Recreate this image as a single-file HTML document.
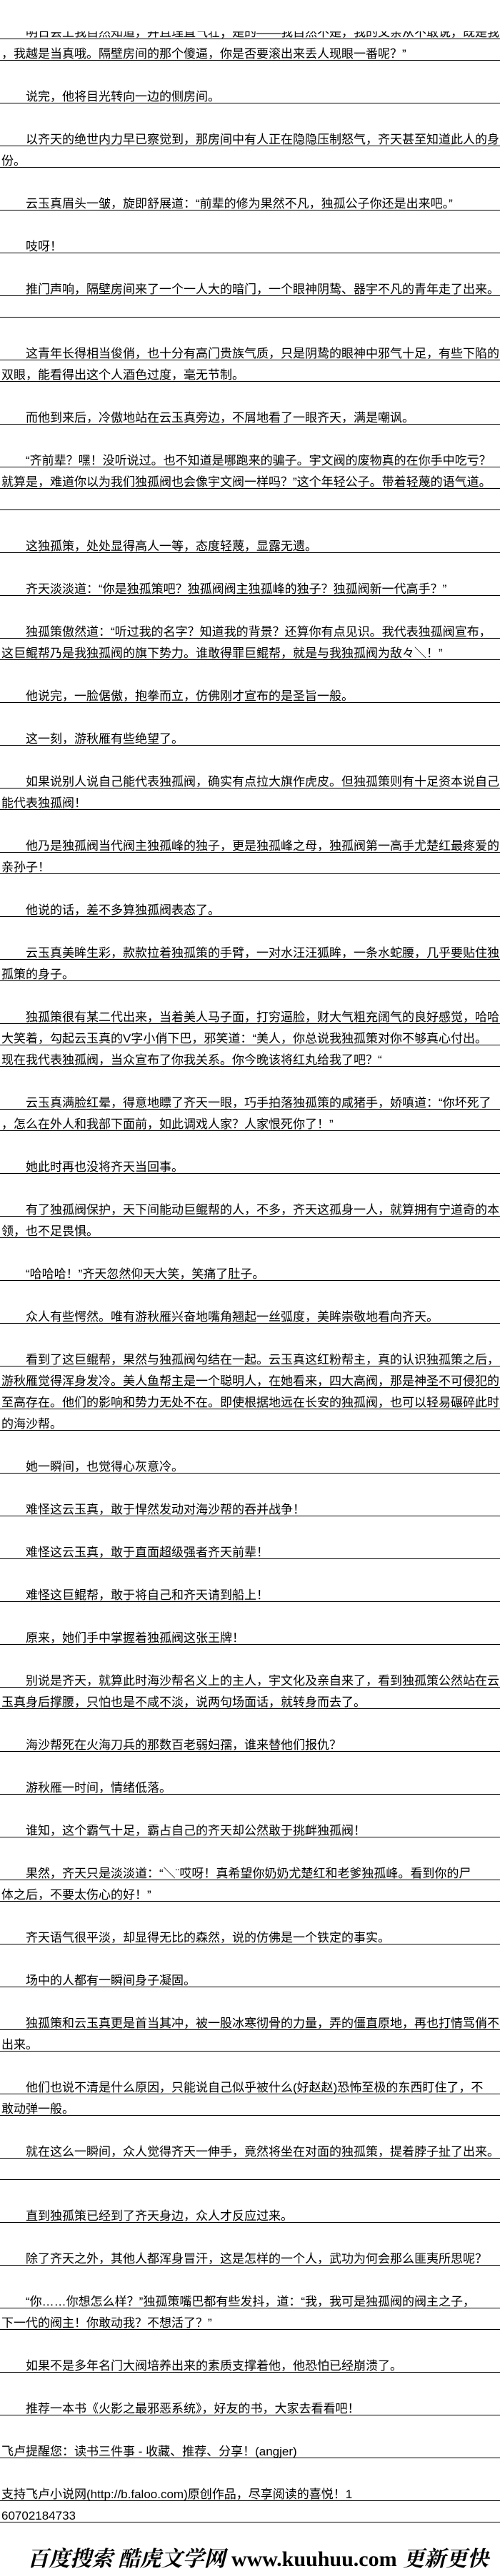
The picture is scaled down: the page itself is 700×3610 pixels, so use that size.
<!DOCTYPE html>
<html><head><meta charset="utf-8">
<style>
html,body{margin:0;padding:0;background:#fff;}
body{width:700px;height:3610px;position:relative;overflow:hidden;font-family:"Liberation Sans","Noto Sans CJK SC","WenQuanYi Zen Hei",sans-serif;color:#000;}
.r{position:absolute;left:0;width:700px;height:29px;border-bottom:1px solid #000;box-sizing:content-box;font-size:17px;line-height:17px;white-space:nowrap;overflow:hidden;}
.r span{position:absolute;left:2px;top:12px;}
.cover{position:absolute;left:0;top:0;width:700px;height:44px;background:#fff;}
.foot{position:absolute;left:38px;top:3566px;width:600px;font-size:30px;line-height:34px;white-space:nowrap;font-weight:bold;}
.foot .c{font-family:"Noto Serif CJK SC","Liberation Serif",serif;font-style:italic;}
.foot .u{font-family:"Liberation Serif",serif;}
</style></head><body>
<div class="r" style="top:25px"><span>　　明日会上我自然知道，并且理直气壮；是的——我自然不是，我的父亲从不敢说，既是我的</span></div>
<div class="cover"></div>
<div class="r" style="top:55px"><span>，我越是当真哦。隔壁房间的那个傻逼，你是否要滚出来丢人现眼一番呢？”</span></div>
<div class="r" style="top:115px"><span>　　说完，他将目光转向一边的侧房间。</span></div>
<div class="r" style="top:175px"><span>　　以齐天的绝世内力早已察觉到，那房间中有人正在隐隐压制怒气，齐天甚至知道此人的身</span></div>
<div class="r" style="top:205px"><span>份。</span></div>
<div class="r" style="top:265px"><span>　　云玉真眉头一皱，旋即舒展道：“前辈的修为果然不凡，独孤公子你还是出来吧。”</span></div>
<div class="r" style="top:325px"><span>　　吱呀！</span></div>
<div class="r" style="top:385px"><span>　　推门声响，隔壁房间来了一个一人大的暗门，一个眼神阴鸷、器宇不凡的青年走了出来。</span></div>
<div class="r" style="top:415px"><span></span></div>
<div class="r" style="top:475px"><span>　　这青年长得相当俊俏，也十分有高门贵族气质，只是阴鸷的眼神中邪气十足，有些下陷的</span></div>
<div class="r" style="top:505px"><span>双眼，能看得出这个人酒色过度，毫无节制。</span></div>
<div class="r" style="top:565px"><span>　　而他到来后，冷傲地站在云玉真旁边，不屑地看了一眼齐天，满是嘲讽。</span></div>
<div class="r" style="top:625px"><span>　　“齐前辈？嘿！没听说过。也不知道是哪跑来的骗子。宇文阀的废物真的在你手中吃亏？</span></div>
<div class="r" style="top:655px"><span>就算是，难道你以为我们独孤阀也会像宇文阀一样吗？”这个年轻公子。带着轻蔑的语气道。</span></div>
<div class="r" style="top:685px"><span></span></div>
<div class="r" style="top:745px"><span>　　这独孤策，处处显得高人一等，态度轻蔑，显露无遗。</span></div>
<div class="r" style="top:805px"><span>　　齐天淡淡道：“你是独孤策吧？独孤阀阀主独孤峰的独子？独孤阀新一代高手？”</span></div>
<div class="r" style="top:865px"><span>　　独孤策傲然道：“听过我的名字？知道我的背景？还算你有点见识。我代表独孤阀宣布，</span></div>
<div class="r" style="top:895px"><span>这巨鲲帮乃是我独孤阀的旗下势力。谁敢得罪巨鲲帮，就是与我独孤阀为敌々＼！”</span></div>
<div class="r" style="top:955px"><span>　　他说完，一脸倨傲，抱拳而立，仿佛刚才宣布的是圣旨一般。</span></div>
<div class="r" style="top:1015px"><span>　　这一刻，游秋雁有些绝望了。</span></div>
<div class="r" style="top:1075px"><span>　　如果说别人说自己能代表独孤阀，确实有点拉大旗作虎皮。但独孤策则有十足资本说自己</span></div>
<div class="r" style="top:1105px"><span>能代表独孤阀！</span></div>
<div class="r" style="top:1165px"><span>　　他乃是独孤阀当代阀主独孤峰的独子，更是独孤峰之母，独孤阀第一高手尤楚红最疼爱的</span></div>
<div class="r" style="top:1195px"><span>亲孙子！</span></div>
<div class="r" style="top:1255px"><span>　　他说的话，差不多算独孤阀表态了。</span></div>
<div class="r" style="top:1315px"><span>　　云玉真美眸生彩，款款拉着独孤策的手臂，一对水汪汪狐眸，一条水蛇腰，几乎要贴住独</span></div>
<div class="r" style="top:1345px"><span>孤策的身子。</span></div>
<div class="r" style="top:1405px"><span>　　独孤策很有某二代出来，当着美人马子面，打穷逼脸，财大气粗充阔气的良好感觉，哈哈</span></div>
<div class="r" style="top:1435px"><span>大笑着，勾起云玉真的V字小俏下巴，邪笑道：“美人，你总说我独孤策对你不够真心付出。</span></div>
<div class="r" style="top:1465px"><span>现在我代表独孤阀，当众宣布了你我关系。你今晚该将红丸给我了吧？“</span></div>
<div class="r" style="top:1525px"><span>　　云玉真满脸红晕，得意地瞟了齐天一眼，巧手拍落独孤策的咸猪手，娇嗔道：“你坏死了</span></div>
<div class="r" style="top:1555px"><span>，怎么在外人和我部下面前，如此调戏人家？人家恨死你了！”</span></div>
<div class="r" style="top:1615px"><span>　　她此时再也没将齐天当回事。</span></div>
<div class="r" style="top:1675px"><span>　　有了独孤阀保护，天下间能动巨鲲帮的人，不多，齐天这孤身一人，就算拥有宁道奇的本</span></div>
<div class="r" style="top:1705px"><span>领，也不足畏惧。</span></div>
<div class="r" style="top:1765px"><span>　　“哈哈哈！”齐天忽然仰天大笑，笑痛了肚子。</span></div>
<div class="r" style="top:1825px"><span>　　众人有些愕然。唯有游秋雁兴奋地嘴角翘起一丝弧度，美眸崇敬地看向齐天。</span></div>
<div class="r" style="top:1885px"><span>　　看到了这巨鲲帮，果然与独孤阀勾结在一起。云玉真这红粉帮主，真的认识独孤策之后，</span></div>
<div class="r" style="top:1915px"><span>游秋雁觉得浑身发冷。美人鱼帮主是一个聪明人，在她看来，四大高阀，那是神圣不可侵犯的</span></div>
<div class="r" style="top:1945px"><span>至高存在。他们的影响和势力无处不在。即使根据地远在长安的独孤阀，也可以轻易碾碎此时</span></div>
<div class="r" style="top:1975px"><span>的海沙帮。</span></div>
<div class="r" style="top:2035px"><span>　　她一瞬间，也觉得心灰意冷。</span></div>
<div class="r" style="top:2095px"><span>　　难怪这云玉真，敢于悍然发动对海沙帮的吞并战争！</span></div>
<div class="r" style="top:2155px"><span>　　难怪这云玉真，敢于直面超级强者齐天前辈！</span></div>
<div class="r" style="top:2215px"><span>　　难怪这巨鲲帮，敢于将自己和齐天请到船上！</span></div>
<div class="r" style="top:2275px"><span>　　原来，她们手中掌握着独孤阀这张王牌！</span></div>
<div class="r" style="top:2335px"><span>　　别说是齐天，就算此时海沙帮名义上的主人，宇文化及亲自来了，看到独孤策公然站在云</span></div>
<div class="r" style="top:2365px"><span>玉真身后撑腰，只怕也是不咸不淡，说两句场面话，就转身而去了。</span></div>
<div class="r" style="top:2425px"><span>　　海沙帮死在火海刀兵的那数百老弱妇孺，谁来替他们报仇？</span></div>
<div class="r" style="top:2485px"><span>　　游秋雁一时间，情绪低落。</span></div>
<div class="r" style="top:2545px"><span>　　谁知，这个霸气十足，霸占自己的齐天却公然敢于挑衅独孤阀！</span></div>
<div class="r" style="top:2605px"><span>　　果然，齐天只是淡淡道：“＼¨哎呀！真希望你奶奶尤楚红和老爹独孤峰。看到你的尸</span></div>
<div class="r" style="top:2635px"><span>体之后，不要太伤心的好！”</span></div>
<div class="r" style="top:2695px"><span>　　齐天语气很平淡，却显得无比的森然，说的仿佛是一个铁定的事实。</span></div>
<div class="r" style="top:2755px"><span>　　场中的人都有一瞬间身子凝固。</span></div>
<div class="r" style="top:2815px"><span>　　独孤策和云玉真更是首当其冲，被一股冰寒彻骨的力量，弄的僵直原地，再也打情骂俏不</span></div>
<div class="r" style="top:2845px"><span>出来。</span></div>
<div class="r" style="top:2905px"><span>　　他们也说不清是什么原因，只能说自己似乎被什么(好赵赵)恐怖至极的东西盯住了，不</span></div>
<div class="r" style="top:2935px"><span>敢动弹一般。</span></div>
<div class="r" style="top:2995px"><span>　　就在这么一瞬间，众人觉得齐天一伸手，竟然将坐在对面的独孤策，提着脖子扯了出来。</span></div>
<div class="r" style="top:3025px"><span></span></div>
<div class="r" style="top:3085px"><span>　　直到独孤策已经到了齐天身边，众人才反应过来。</span></div>
<div class="r" style="top:3145px"><span>　　除了齐天之外，其他人都浑身冒汗，这是怎样的一个人，武功为何会那么匪夷所思呢？</span></div>
<div class="r" style="top:3205px"><span>　　“你……你想怎么样？”独孤策嘴巴都有些发抖，道：“我，我可是独孤阀的阀主之子，</span></div>
<div class="r" style="top:3235px"><span>下一代的阀主！你敢动我？不想活了？”</span></div>
<div class="r" style="top:3295px"><span>　　如果不是多年名门大阀培养出来的素质支撑着他，他恐怕已经崩溃了。</span></div>
<div class="r" style="top:3355px"><span>　　推荐一本书《火影之最邪恶系统》，好友的书，大家去看看吧！</span></div>
<div class="r" style="top:3415px"><span>飞卢提醒您：读书三件事 - 收藏、推荐、分享！(angjer)</span></div>
<div class="r" style="top:3475px"><span>支持飞卢小说网(http://b.faloo.com)原创作品，尽享阅读的喜悦！1</span></div>
<div class="r" style="top:3505px"><span>60702184733</span></div>
<div class="foot"><span class="c">百度搜索 酷虎文学网</span> <span class="u">www.kuuhuu.com</span> <span class="c">更新更快</span></div>
</body></html>
